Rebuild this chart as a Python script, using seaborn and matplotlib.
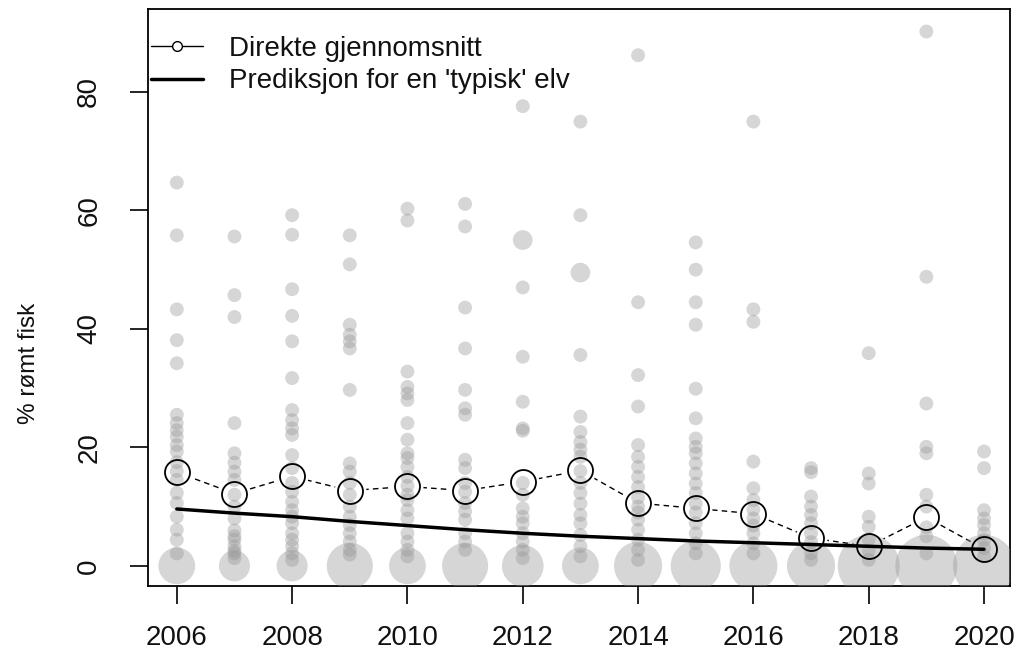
import numpy as np
import pandas as pd
import matplotlib
matplotlib.use("Agg")
import matplotlib.pyplot as plt
from matplotlib.lines import Line2D
import seaborn as sns

# ---------------- data ----------------
years = list(range(2006, 2021))

vals_2006 = [64.7, 55.8, 43.3, 38.1, 34.2, 25.5, 24.1, 22.9, 21.8, 20.4, 19.3, 17.5, 16.0, 14.5, 12.3, 10.6, 8.3, 6.1, 4.4, 2.1]
vals_2007 = [55.6, 45.7, 42.0, 24.1, 19.0, 17.4, 15.9, 14.5, 12.0, 10.0, 8.0, 6.0, 5.0, 4.4, 3.3, 2.5, 2.1, 1.3]
vals_2008 = [59.2, 55.9, 46.7, 42.2, 37.9, 31.7, 26.3, 24.6, 23.2, 22.1, 18.7, 16.5, 14.0, 12.5, 10.8, 9.4, 8.3, 7.2, 5.5, 4.4, 3.3, 2.1, 1.0]
vals_2009 = [55.8, 50.9, 40.7, 39.0, 37.9, 36.7, 29.7, 17.3, 15.9, 14.0, 12.0, 10.0, 8.3, 6.9, 5.5, 4.1, 2.7, 1.9]
vals_2010 = [60.3, 58.3, 32.8, 30.2, 29.1, 28.0, 24.1, 21.3, 19.0, 18.2, 16.7, 15.0, 13.5, 12.0, 11.1, 9.4, 8.0, 5.5, 4.1, 2.7, 1.6]
vals_2011 = [61.1, 57.3, 43.6, 36.7, 29.7, 26.6, 25.5, 17.9, 16.5, 14.0, 12.5, 10.6, 9.2, 7.8, 5.5, 4.1, 2.7]
vals_2012 = [77.6, 55.0, 55.0, 47.0, 35.3, 27.7, 23.2, 22.8, 14.0, 12.0, 9.7, 8.3, 7.2, 5.5, 4.1, 2.7, 1.3]
vals_2013 = [75.0, 59.2, 49.5, 49.5, 35.6, 25.2, 22.6, 20.9, 19.6, 18.4, 16.0, 14.0, 12.3, 10.5, 8.6, 7.2, 5.2, 3.3, 1.6]
vals_2014 = [86.2, 44.5, 32.2, 26.9, 20.4, 18.4, 16.7, 15.0, 13.3, 11.5, 10.0, 9.0, 7.8, 6.1, 4.4, 2.7, 1.0]
vals_2015 = [54.6, 50.0, 44.5, 40.7, 29.9, 24.9, 21.5, 20.1, 19.0, 17.3, 15.6, 13.9, 12.3, 10.5, 9.0, 7.2, 5.5, 3.8, 2.1]
vals_2016 = [75.0, 43.3, 41.2, 17.6, 13.1, 11.1, 9.5, 8.0, 6.8, 5.5, 3.8, 2.1]
vals_2017 = [16.5, 15.8, 11.7, 10.0, 8.6, 7.2, 5.5, 4.0, 2.1, 1.0]
vals_2018 = [35.9, 15.6, 13.9, 8.3, 6.6, 4.5, 2.5, 1.0]
vals_2019 = [90.2, 48.8, 27.4, 20.1, 19.0, 12.0, 10.0, 6.5, 5.0, 2.1]
vals_2020 = [19.3, 16.5, 9.4, 8.0, 6.9, 5.5, 4.4, 3.0, 1.6]

zero_counts = [7, 5, 5, 11, 7, 11, 9, 7, 12, 13, 12, 12, 20, 20, 20]

mean_pct = [15.8, 12.2, 15.1, 12.7, 13.4, 12.7, 14.2, 16.1, 10.6, 9.7, 8.8, 4.7, 3.3, 8.2, 2.85]
pred_pct = [9.6, 8.9, 8.3, 7.5, 6.8, 6.1, 5.5, 5.0, 4.6, 4.2, 3.9, 3.6, 3.3, 3.0, 2.8]

x_ticks = [2006, 2008, 2010, 2012, 2014, 2016, 2018, 2020]
y_ticks = [0, 20, 40, 60, 80]
legend_labels = ["Direkte gjennomsnitt", "Prediksjon for en 'typisk' elv"]
y_label = "% rømt fisk"

# ---------------- tables ----------------
all_vals = [vals_2006, vals_2007, vals_2008, vals_2009, vals_2010, vals_2011, vals_2012,
            vals_2013, vals_2014, vals_2015, vals_2016, vals_2017, vals_2018, vals_2019, vals_2020]
rows = []
for yr, vals, nz in zip(years, all_vals, zero_counts):
    s = pd.Series(vals).value_counts()
    for v, c in s.items():
        rows.append((yr, v, c))
    rows.append((yr, 0.0, nz))
pts = pd.DataFrame(rows, columns=["year", "value", "n"])
means = pd.DataFrame({"year": years, "mean": mean_pct})
pred = pd.DataFrame({"year": years, "pred": pred_pct})

# ---------------- plot ----------------
sns.set_style("white")
plt.rcParams["font.family"] = ["Liberation Sans", "DejaVu Sans"]

fig = plt.figure(figsize=(10.17, 6.59), dpi=100)
ax = fig.add_axes([0.1455, 0.1108, 0.8476, 0.8755])

# dashed line joining means (drawn first, gaps made by white disks)
sns.lineplot(data=means, x="year", y="mean", ax=ax, color="black", lw=1.0,
             linestyle=(0, (4, 3)), zorder=1, errorbar=None)
sns.lineplot(data=means, x="year", y="mean", ax=ax, color="white", marker="o",
             markersize=23, markeredgewidth=0, linestyle="none", zorder=2, errorbar=None)

sns.scatterplot(data=pts, x="year", y="value", size="n", sizes=(100, 100 * 20),
                size_norm=(1, 20), color=(0.6, 0.6, 0.6), alpha=0.4,
                edgecolor="none", linewidth=0, legend=False, ax=ax, zorder=3)

sns.lineplot(data=means, x="year", y="mean", ax=ax, color="black", marker="o",
             markersize=18, markerfacecolor="none", markeredgecolor="black",
             markeredgewidth=1.3, linestyle="none", zorder=4, errorbar=None)

sns.lineplot(data=pred, x="year", y="pred", ax=ax, color="black", lw=2.5,
             zorder=5, errorbar=None)

ax.set_xlim(2005.5, 2020.45)
ax.set_ylim(-3.4, 94.0)
ax.set_xticks(x_ticks)
ax.set_yticks(y_ticks)
ax.set_xticklabels([str(t) for t in x_ticks])
ax.set_yticklabels([str(t) for t in y_ticks], rotation=90, va="center")
ax.tick_params(axis="both", which="both", bottom=True, left=True, direction="out",
               length=13, width=1.2, color="black", labelsize=20, labelcolor="#111111")
ax.tick_params(axis="x", pad=15)
ax.tick_params(axis="y", pad=20)
for sp in ax.spines.values():
    sp.set_visible(True)
    sp.set_color("black")
    sp.set_linewidth(1.3)

ax.set_xlabel("")
ax.set_ylabel(y_label, fontsize=17.5, color="#111111")
ax.yaxis.set_label_coords(-0.125, 0.386)

handles = [
    Line2D([0], [0], color="black", lw=1.0, marker="o", markersize=7,
           markerfacecolor="white", markeredgecolor="black"),
    Line2D([0], [0], color="black", lw=2.5),
]
leg = ax.legend(handles, legend_labels, loc="upper left", bbox_to_anchor=(0.004, 0.953),
                frameon=False, fontsize=20, handlelength=1.85, handletextpad=0.95,
                labelspacing=0.22, borderaxespad=0, borderpad=0)
for t in leg.get_texts():
    t.set_color("#111111")

fig.savefig("out.png", dpi=100, facecolor="white")
